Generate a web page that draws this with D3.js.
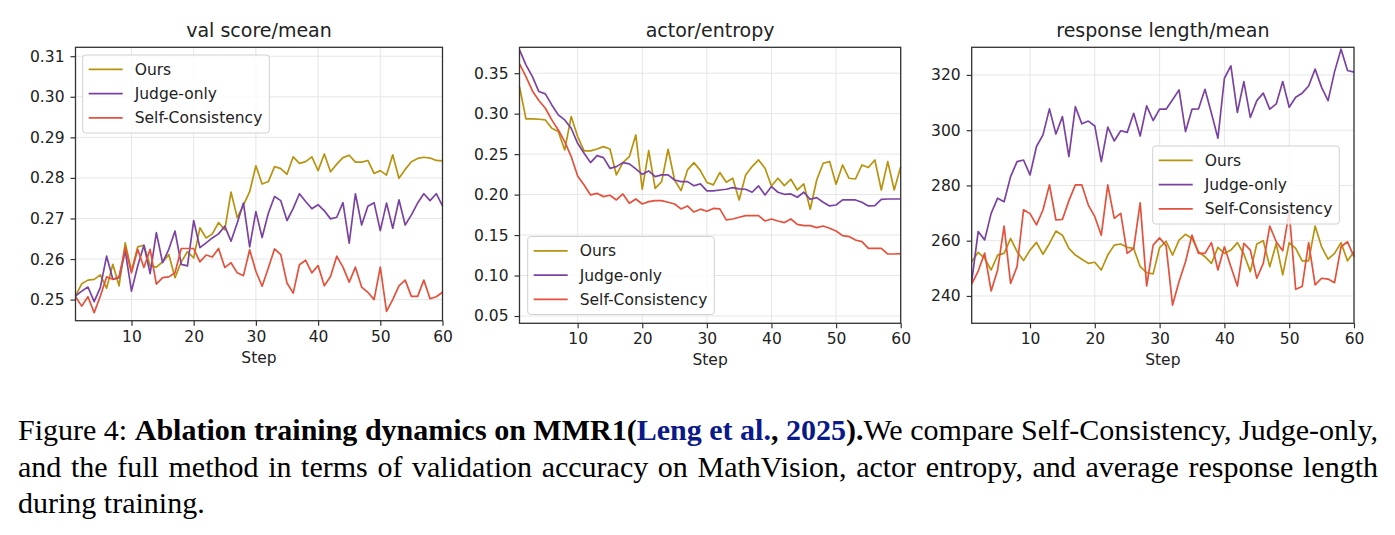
<!DOCTYPE html>
<html>
<head>
<meta charset="utf-8">
<script src="https://cdn.jsdelivr.net/npm/d3@7"></script>
<style>
  body { margin: 0; background: #fff; }
  svg text { font-family: "DejaVu Sans", sans-serif; }
</style>
</head>
<body>
<svg id="fig" width="1395" height="535"></svg>
<script>
// ---- data ----
const steps = d3.range(1, 61);
const seriesNames = ["Ours", "Judge-only", "Self-Consistency"];
const seriesColors = ["#b8930f", "#7b43a1", "#e4513c"];
const stepTicks = [10, 20, 30, 40, 50, 60];

const valOurs = [
  0.2509, 0.2539, 0.2548, 0.2550, 0.2561, 0.2528, 0.2587, 0.2534, 0.2640, 0.2570,
  0.2630, 0.2634, 0.2583, 0.2580, 0.2593, 0.2611, 0.2554, 0.2593, 0.2618, 0.2603,
  0.2677, 0.2652, 0.2662, 0.2690, 0.2672, 0.2765, 0.2702, 0.2733, 0.2766, 0.2830,
  0.2785, 0.2791, 0.2828, 0.2823, 0.2809, 0.2852, 0.2836, 0.2840, 0.2852, 0.2818,
  0.2859, 0.2815, 0.2834, 0.2850, 0.2856, 0.2839, 0.2839, 0.2843, 0.2811, 0.2818,
  0.2807, 0.2857, 0.2799, 0.2821, 0.2840, 0.2848, 0.2851, 0.2849, 0.2843, 0.2842
];
const valJudge = [
  0.2509, 0.2521, 0.2531, 0.2495, 0.2530, 0.2607, 0.2550, 0.2554, 0.2620, 0.2521,
  0.2583, 0.2634, 0.2564, 0.2665, 0.2591, 0.2624, 0.2669, 0.2587, 0.2583, 0.2695,
  0.2628, 0.2640, 0.2652, 0.2662, 0.2681, 0.2644, 0.2689, 0.2738, 0.2630, 0.2717,
  0.2653, 0.2713, 0.2754, 0.2744, 0.2695, 0.2725, 0.2761, 0.2742, 0.2724, 0.2734,
  0.2719, 0.2699, 0.2703, 0.2739, 0.2639, 0.2761, 0.2684, 0.2730, 0.2739, 0.2670,
  0.2738, 0.2676, 0.2746, 0.2684, 0.2709, 0.2738, 0.2761, 0.2744, 0.2761, 0.2731
];
const valSelf = [
  0.2507, 0.2484, 0.2507, 0.2468, 0.2509, 0.2556, 0.2550, 0.2556, 0.2628, 0.2566,
  0.2624, 0.2579, 0.2624, 0.2538, 0.2554, 0.2556, 0.2566, 0.2626, 0.2626, 0.2626,
  0.2593, 0.2610, 0.2605, 0.2626, 0.2579, 0.2591, 0.2566, 0.2559, 0.2623, 0.2570,
  0.2533, 0.2578, 0.2625, 0.2611, 0.2541, 0.2516, 0.2586, 0.2597, 0.2566, 0.2584,
  0.2534, 0.2557, 0.2607, 0.2580, 0.2543, 0.2580, 0.2531, 0.2518, 0.2500, 0.2580,
  0.2471, 0.2500, 0.2534, 0.2548, 0.2508, 0.2508, 0.2548, 0.2502, 0.2507, 0.2518
];
const valTicks = [0.25, 0.26, 0.27, 0.28, 0.29, 0.30, 0.31];

const entOurs = [
  0.3335, 0.2935, 0.2935, 0.2931, 0.2923, 0.2820, 0.2779, 0.2552, 0.2964, 0.2717,
  0.2540, 0.2540, 0.2564, 0.2593, 0.2564, 0.2243, 0.2395, 0.2469, 0.2737, 0.2066,
  0.2543, 0.2078, 0.2160, 0.2560, 0.2181, 0.2049, 0.2305, 0.2395, 0.2296, 0.2150,
  0.2120, 0.2272, 0.2153, 0.2202, 0.1934, 0.2243, 0.2346, 0.2428, 0.2326, 0.2107,
  0.2202, 0.2111, 0.2190, 0.2057, 0.2132, 0.1819, 0.2181, 0.2387, 0.2408, 0.2128,
  0.2366, 0.2202, 0.2193, 0.2366, 0.2334, 0.2428, 0.2057, 0.2408, 0.2057, 0.2346
];
const entJudge = [
  0.3788, 0.3603, 0.3458, 0.3273, 0.3244, 0.3108, 0.2985, 0.2923, 0.2820, 0.2634,
  0.2511, 0.2395, 0.2482, 0.2457, 0.2325, 0.2346, 0.2395, 0.2379, 0.2317, 0.2251,
  0.2292, 0.2222, 0.2243, 0.2243, 0.2181, 0.2160, 0.2160, 0.2109, 0.2132, 0.2047,
  0.2047, 0.2057, 0.2066, 0.2086, 0.2070, 0.2066, 0.2029, 0.2107, 0.1996, 0.2099,
  0.2029, 0.2004, 0.2008, 0.1967, 0.2029, 0.1942, 0.1963, 0.1905, 0.1860, 0.1872,
  0.1934, 0.1934, 0.1934, 0.1905, 0.1860, 0.1864, 0.1942, 0.1946, 0.1946, 0.1946
];
const entSelf = [
  0.3615, 0.3458, 0.3281, 0.3162, 0.3067, 0.2923, 0.2799, 0.2655, 0.2470, 0.2231,
  0.2119, 0.1996, 0.2016, 0.1975, 0.1992, 0.1934, 0.2008, 0.1893, 0.1946, 0.1884,
  0.1913, 0.1926, 0.1926, 0.1905, 0.1884, 0.1823, 0.1860, 0.1785, 0.1820, 0.1794,
  0.1829, 0.1823, 0.1687, 0.1699, 0.1720, 0.1740, 0.1740, 0.1740, 0.1674, 0.1699,
  0.1674, 0.1654, 0.1699, 0.1633, 0.1617, 0.1617, 0.1592, 0.1612, 0.1584, 0.1551,
  0.1493, 0.1481, 0.1439, 0.1419, 0.1336, 0.1336, 0.1336, 0.1266, 0.1266, 0.1270
];
const entTicks = [0.05, 0.10, 0.15, 0.20, 0.25, 0.30, 0.35];

const lenOurs = [
  252.4, 255.8, 253.6, 249.4, 254.8, 255.4, 260.8, 256.0, 252.8, 256.6,
  259.4, 255.1, 259.0, 263.5, 262.0, 257.2, 254.8, 253.3, 251.8, 252.2,
  249.4, 254.8, 258.4, 258.8, 257.6, 257.2, 250.6, 248.4, 248.0, 257.5,
  259.8, 254.8, 260.2, 262.3, 260.8, 256.0, 254.2, 251.8, 257.6, 255.4,
  256.6, 259.3, 255.2, 248.8, 258.8, 260.0, 250.6, 259.0, 247.6, 259.3,
  257.2, 252.7, 252.7, 265.3, 257.8, 253.3, 255.4, 259.3, 252.7, 256.0
];
const lenJudge = [
  245.2, 263.3, 260.3, 269.9, 275.4, 274.1, 283.2, 288.6, 289.2, 283.8,
  294.1, 298.3, 307.7, 298.6, 304.9, 290.4, 308.5, 302.3, 303.3, 301.5,
  288.6, 301.1, 296.1, 299.8, 299.2, 306.1, 297.9, 308.8, 303.5, 307.6,
  307.6, 311.0, 314.6, 299.5, 307.6, 307.7, 314.8, 306.1, 297.1, 318.8,
  323.3, 306.4, 317.6, 304.6, 310.7, 313.4, 307.6, 309.5, 317.6, 308.3,
  311.9, 313.4, 316.0, 322.1, 315.5, 310.7, 321.2, 329.3, 321.6, 321.0
];
const lenSelf = [
  244.3, 249.0, 255.5, 241.8, 249.4, 265.3, 244.5, 250.6, 271.2, 269.8,
  265.7, 271.1, 280.2, 267.5, 267.7, 274.5, 280.2, 280.2, 272.9, 268.7,
  262.0, 280.2, 268.1, 269.9, 255.4, 257.2, 273.7, 243.6, 258.4, 261.0,
  258.2, 236.7, 245.2, 252.4, 262.0, 255.4, 255.4, 259.3, 249.4, 257.8,
  250.6, 243.6, 259.0, 256.6, 246.4, 251.8, 265.3, 259.6, 256.4, 270.5,
  242.4, 243.4, 259.3, 244.0, 246.4, 246.1, 244.8, 257.8, 259.6, 254.2
];
const lenTicks = [240, 260, 280, 300, 320];

// ---- layout ----
const panels = [
  { title: "val score/mean", series: [valOurs, valJudge, valSelf], yDomain: [0.2448, 0.3122],
    yTicks: valTicks, fmt: d3.format(".2f"),
    box: { l: 75.5, r: 442.5, t: 47.3, b: 320.7 }, legend: { x: 82.7, y: 55 } },
  { title: "actor/entropy", series: [entOurs, entJudge, entSelf], yDomain: [0.041, 0.382],
    yTicks: entTicks, fmt: d3.format(".2f"),
    box: { l: 519.5, r: 900.7, t: 47.3, b: 323.3 }, legend: { x: 527.7, y: 236.5 } },
  { title: "response length/mean", series: [lenOurs, lenJudge, lenSelf], yDomain: [230.1, 330],
    yTicks: lenTicks, fmt: d3.format("d"),
    box: { l: 971.7, r: 1354, t: 47.3, b: 323.3 }, legend: { x: 1152.7, y: 146 } }
];

const svg = d3.select("#fig");
svg.append("rect").attr("width", 1395).attr("height", 535).attr("fill", "#fff");

const tickFont = 15.5;

panels.forEach(p => {
  const b = p.box;
  const x = d3.scaleLinear().domain([1, 60]).range([b.l, b.r]);
  const y = d3.scaleLinear().domain(p.yDomain).range([b.b, b.t]);
  const g = svg.append("g");

  // grid
  g.append("g").selectAll("line").data(stepTicks).join("line")
    .attr("x1", d => x(d)).attr("x2", d => x(d)).attr("y1", b.t).attr("y2", b.b)
    .attr("stroke", "#e6e6e6").attr("stroke-width", 1);
  g.append("g").selectAll("line").data(p.yTicks).join("line")
    .attr("x1", b.l).attr("x2", b.r).attr("y1", d => y(d)).attr("y2", d => y(d))
    .attr("stroke", "#e6e6e6").attr("stroke-width", 1);

  // lines
  const line = d3.line().x((d, i) => x(steps[i])).y(d => y(d));
  p.series.forEach((s, k) => {
    g.append("path").datum(s).attr("d", line)
      .attr("fill", "none").attr("stroke", seriesColors[k])
      .attr("stroke-width", 1.7).attr("stroke-linejoin", "round");
  });

  // axes
  const xAxis = d3.axisBottom(x).tickValues(stepTicks).tickSize(5).tickPadding(5);
  const yAxis = d3.axisLeft(y).tickValues(p.yTicks).tickFormat(p.fmt).tickSize(5).tickPadding(6);
  const gx = g.append("g").attr("transform", `translate(0,${b.b})`).call(xAxis);
  const gy = g.append("g").attr("transform", `translate(${b.l},0)`).call(yAxis);
  [gx, gy].forEach(a => {
    a.select(".domain").remove();
    a.selectAll(".tick line").attr("stroke", "#333").attr("stroke-width", 1.2);
    a.selectAll(".tick text").attr("fill", "#222").style("font-size", tickFont + "px")
      .style("font-family", '"DejaVu Sans", sans-serif');
  });

  // frame
  g.append("rect").attr("x", b.l).attr("y", b.t).attr("width", b.r - b.l).attr("height", b.b - b.t)
    .attr("fill", "none").attr("stroke", "#333").attr("stroke-width", 1.3);

  // title and x label
  g.append("text").attr("x", (b.l + b.r) / 2).attr("y", 37).attr("text-anchor", "middle")
    .style("font-size", "19px").attr("fill", "#222").text(p.title);
  g.append("text").attr("x", (b.l + b.r) / 2).attr("y", b.b + 42).attr("text-anchor", "middle")
    .style("font-size", tickFont + "px").attr("fill", "#222").text("Step");

  // legend
  const lg = g.append("g").attr("transform", `translate(${p.legend.x},${p.legend.y})`);
  const frame = lg.append("rect").attr("rx", 3).attr("ry", 3).attr("height", 78)
    .attr("fill", "#fff").attr("fill-opacity", 0.8).attr("stroke", "#d0d0d0").attr("stroke-width", 1);
  let maxW = 0;
  seriesNames.forEach((name, k) => {
    const cy = 14.3 + k * 24.3;
    lg.append("line").attr("x1", 6).attr("x2", 40).attr("y1", cy).attr("y2", cy)
      .attr("stroke", seriesColors[k]).attr("stroke-width", 1.7);
    const t = lg.append("text").attr("x", 52).attr("y", cy).attr("dy", "0.36em")
      .style("font-size", tickFont + "px").attr("fill", "#222").text(name);
    maxW = Math.max(maxW, t.node().getComputedTextLength());
  });
  frame.attr("width", 52 + maxW + 7);
});

// ---- caption ----
const capFont = '"Liberation Serif", "Times New Roman", serif';
const capLines = [
  [
    { t: "Figure 4: ", w: "normal", c: "#000" },
    { t: "Ablation training dynamics on MMR1(", w: "bold", c: "#000" },
    { t: "Leng et al.", w: "bold", c: "#0a1a8a" },
    { t: ", ", w: "bold", c: "#000" },
    { t: "2025", w: "bold", c: "#0a1a8a" },
    { t: ").", w: "bold", c: "#000" },
    { t: "We compare Self-Consistency, Judge-only,", w: "normal", c: "#000" }
  ],
  [{ t: "and the full method in terms of validation accuracy on MathVision, actor entropy, and average response length", w: "normal", c: "#000" }],
  [{ t: "during training.", w: "normal", c: "#000" }]
];
const capY = [440, 476.5, 513];
capLines.forEach((segs, i) => {
  const txt = svg.append("text").attr("x", 18).attr("y", capY[i])
    .style("font-family", capFont).style("font-size", "30px").attr("fill", "#000")
    .attr("xml:space", "preserve").style("white-space", "pre");
  segs.forEach(s => txt.append("tspan").style("font-weight", s.w).attr("fill", s.c).text(s.t));
  if (i < 2) {
    const natural = txt.node().getComputedTextLength();
    const spaces = (txt.text().match(/ /g) || []).length;
    txt.style("word-spacing", ((1378 - 18 - natural) / spaces) + "px");
  }
});
</script>
</body>
</html>
